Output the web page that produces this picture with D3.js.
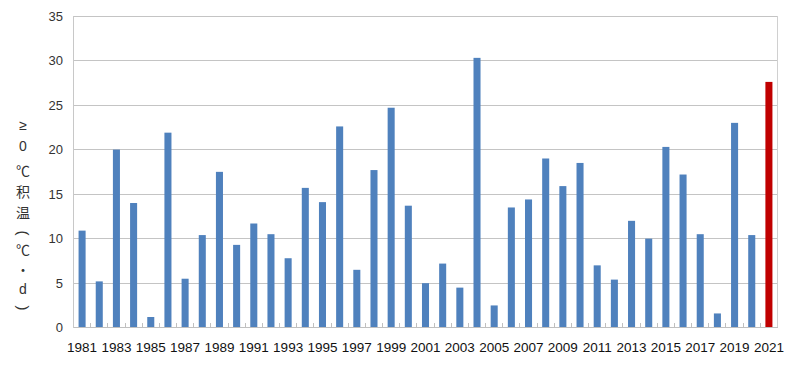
<!DOCTYPE html>
<html><head><meta charset="utf-8">
<script src="https://cdn.jsdelivr.net/npm/d3@7"></script>
<style>body{margin:0;background:#fff}svg{display:block}</style>
</head><body><svg id="c" width="800" height="366"></svg>
<script>
const years = d3.range(1981, 2022);
const values = [10.9,5.2,20.0,14.0,1.2,21.9,5.5,10.4,17.5,9.3,
  11.7,10.5,7.8,15.7,14.1,22.6,6.5,17.7,24.7,13.7,
  5.0,7.2,4.5,30.3,2.5,13.5,14.4,19.0,15.9,18.5,
  7.0,5.4,12.0,10.0,20.3,17.2,10.5,1.6,23.0,10.4,27.6];
const yTicks = [0,5,10,15,20,25,30,35];
const titleChars = ["≥","0","℃","积","温","(","℃","·","d",")"];
const titleY = [125,146,170,191,212,233,249,269,289,308];

const svg = d3.select("#c");
const L=73.5, R=777.5, T=16, B=327.7;
const x = d3.scaleBand().domain(years).range([L,R]).paddingInner(0.59).paddingOuter(0.295);
const xb = d3.scaleBand().domain(years).range([L,R]);
const y = d3.scaleLinear().domain([0,35]).range([B,T]);

svg.append("g").selectAll("line").data(yTicks.filter(d=>d>0)).join("line")
  .attr("x1",L).attr("x2",R).attr("y1",d=>y(d)).attr("y2",d=>y(d))
  .attr("stroke","#c4c4c4").attr("stroke-width",1).attr("shape-rendering","crispEdges");
svg.append("line").attr("x1",R).attr("x2",R).attr("y1",T).attr("y2",B)
  .attr("stroke","#d0d0d0").attr("shape-rendering","crispEdges");

svg.append("g").selectAll("rect").data(years).join("rect")
  .attr("x",d=>x(d)).attr("width",x.bandwidth())
  .attr("y",(d,i)=>y(values[i])).attr("height",(d,i)=>B-y(values[i]))
  .attr("fill",(d,i)=>d===2021?"#c00000":"#4f81bd");

svg.append("line").attr("x1",L).attr("x2",L).attr("y1",T).attr("y2",B)
  .attr("stroke","#c8c8c8").attr("shape-rendering","crispEdges");
svg.append("line").attr("x1",L).attr("x2",R).attr("y1",B).attr("y2",B)
  .attr("stroke","#c0c0c0").attr("shape-rendering","crispEdges");
svg.append("g").selectAll("line").data(years.slice(1)).join("line")
  .attr("x1",d=>xb(d)).attr("x2",d=>xb(d)).attr("y1",B-5).attr("y2",B)
  .attr("stroke","#c0c0c0").attr("shape-rendering","crispEdges");

svg.append("g").selectAll("text").data(yTicks).join("text")
  .attr("x",63).attr("y",d=>y(d)).attr("dy","0.36em").attr("text-anchor","end")
  .attr("font-family","Liberation Sans, Arial, sans-serif").attr("font-size",13).attr("fill","#333")
  .text(d=>d);

svg.append("g").selectAll("text").data(years.filter(d=>(d-1981)%2===0)).join("text")
  .attr("x",d=>xb(d)+xb.bandwidth()/2).attr("y",352).attr("text-anchor","middle")
  .attr("font-family","Liberation Sans, Arial, sans-serif").attr("font-size",13.5).attr("fill","#111")
  .text(d=>d);

const isParen = d => d==="(" || d===")";
const tg = svg.append("g").selectAll("g").data(titleChars).join("g")
  .attr("transform",(d,i)=>`translate(23,${titleY[i]})` + (isParen(d)?" rotate(90)":""));
tg.append("text")
  .attr("dominant-baseline","central").attr("text-anchor","middle")
  .attr("font-family",d=>(isParen(d)||d==="≥"||d==="0"||d==="d")?"Liberation Sans, DejaVu Sans, sans-serif":"Noto Sans CJK SC, sans-serif")
  .attr("font-size",d=>isParen(d)?15:14).attr("fill","#333")
  .text(d=>d);
</script></body></html>
